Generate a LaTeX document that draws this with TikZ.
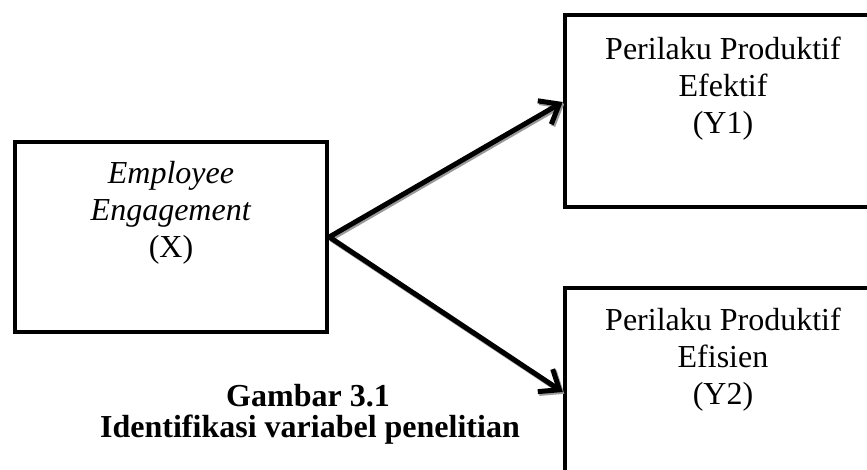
\documentclass[tikz,border=0pt]{standalone}
\usepackage{fontspec}
\setmainfont{Liberation Serif}
\usetikzlibrary{arrows.meta}
\begin{document}
\begin{tikzpicture}[x=1pt,y=-1pt,
  box/.style={draw=black,line width=4.5pt,rectangle,inner sep=0pt},
  lbl/.style={align=center,inner sep=0pt,font=\fontsize{32}{37}\selectfont},
  captext/.style={inner sep=0pt,font=\fontsize{32}{36}\selectfont\bfseries},
  link/.style={line width=5pt,-{Straight Barb[length=17pt,width=27pt]}},
  linkshadow/.style={line width=5pt,draw=black!40,-{Straight Barb[length=17pt,width=27pt]},
    transform canvas={shift={(1.5pt,-1.8pt)}}}]
\useasboundingbox (0,0) rectangle (867,470);
\clip (0,0) rectangle (867,470);
\fill[white] (0,0) rectangle (867,470);
% boxes
\node[box,minimum width=312pt,minimum height=190pt] (x) at (171,237) {};
\node[box,minimum width=315pt,minimum height=192pt] (y1) at (722.5,111) {};
\node[box,minimum width=315pt,minimum height=192pt] (y2) at (722.5,384) {};
% texts
\node[lbl,anchor=north] (tx) at (171,161) {\textit{Employee}\\\textit{Engagement}\\(X)};
\node[lbl,anchor=north] (ty1) at (723,37) {Perilaku Produktif\\Efektif\\(Y1)};
\node[lbl,anchor=north] (ty2) at (723,308) {Perilaku Produktif\\Efisien\\(Y2)};
% connectors
\draw[linkshadow] (x.east) -- (y1.west |- 0,102);
\draw[linkshadow] (x.east) -- (y2.west |- 0,392);
\draw[link] (x.east) -- (y1.west |- 0,102);
\draw[link] (x.east) -- (y2.west |- 0,392);
% caption
\node[captext,anchor=base] (c1) at (308,406) {Gambar 3.1};
\node[captext,anchor=base] (c2) at (310,437) {Identifikasi variabel penelitian};
\end{tikzpicture}
\end{document}
